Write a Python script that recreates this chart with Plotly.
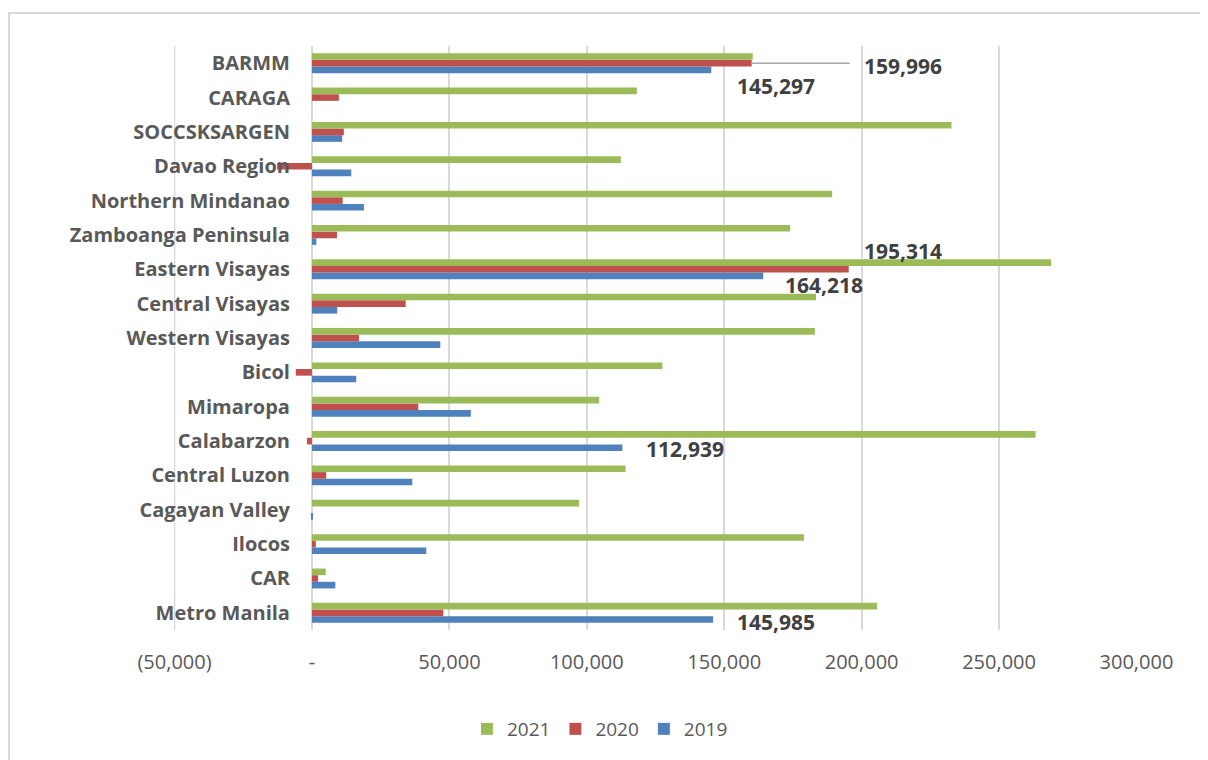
import plotly.graph_objects as go

# Regions listed bottom-to-top (as drawn on the category axis)
regions = ["Metro Manila", "CAR", "Ilocos", "Cagayan Valley", "Central Luzon",
           "Calabarzon", "Mimaropa", "Bicol", "Western Visayas", "Central Visayas",
           "Eastern Visayas", "Zamboanga Peninsula", "Northern Mindanao",
           "Davao Region", "SOCCSKSARGEN", "CARAGA", "BARMM"]

v2019 = [145985, 8500, 41600, 200, 36500,
         112939, 57800, 16100, 46700, 9200,
         164218, 1600, 18900, 14300, 11000, 0, 145297]
v2020 = [47800, 2200, 1400, 0, 5200,
         -1800, 38700, -5900, 17100, 34100,
         195314, 9100, 11200, -12700, 11600, 9800, 159996]
v2021 = [205600, 5000, 179000, 97200, 114100,
         263300, 104500, 127500, 183000, 183400,
         268900, 174000, 189300, 112400, 232700, 118200, 160400]

tick_vals = [-50000, 0, 50000, 100000, 150000, 200000, 250000, 300000]
tick_text = ["(50,000)", "-", "50,000", "100,000", "150,000", "200,000", "250,000", "300,000"]

x_min, x_max = -50000, 300000
r_lo, r_hi = x_min - 200, x_max + 200

C_GREEN = "#9BBB59"
C_RED = "#C0504D"
C_BLUE = "#4F81BD"
GRID = "#D9D9D9"
TXT = "#595959"
FONT = "Open Sans, DejaVu Sans, sans-serif"

fig = go.Figure()
for name, vals, col in [("2019", v2019, C_BLUE), ("2020", v2020, C_RED), ("2021", v2021, C_GREEN)]:
    fig.add_trace(go.Bar(y=regions, x=vals, name=name, orientation="h",
                         marker=dict(color=col, line=dict(width=0)),
                         hoverinfo="x+y+name"))

# data labels (series values, with manual pixel offsets as in the original chart)
series = {"2019": v2019, "2020": v2020}
labels = [  # (series, region, xshift, yshift)
    ("2020", "BARMM", 110, -3),
    ("2019", "BARMM", 24, -23),
    ("2020", "Eastern Visayas", 13, 18),
    ("2019", "Eastern Visayas", 20, -16),
    ("2019", "Calabarzon", 22, -8),
    ("2019", "Metro Manila", 22, -9),
]
for s, reg, xs, ys in labels:
    val = series[s][regions.index(reg)]
    fig.add_annotation(x=val, y=reg, xref="x", yref="y", text=f"{val:,}",
                       showarrow=False, xanchor="left", yanchor="middle",
                       xshift=xs, yshift=ys,
                       font=dict(family=FONT, size=21, color="#404040", weight="bold"))

# leader line for BARMM 2020 label
barmm_2020 = v2020[regions.index("BARMM")]
fig.add_shape(type="line", xref="x", yref="y", xsizemode="pixel", xanchor=barmm_2020,
              x0=0, x1=98, y0="BARMM", y1="BARMM",
              line=dict(color="#A6A6A6", width=1.5))

# gridline at the left edge of the value axis
fig.add_shape(type="line", xref="x", yref="paper", x0=x_min, x1=x_min, y0=0, y1=1,
              line=dict(color=GRID, width=1.5), layer="below")

# chart-area border
fig.add_shape(type="rect", xref="paper", yref="paper",
              x0=-0.1713, x1=1.12, y0=-0.4, y1=1.0565,
              line=dict(color=GRID, width=2), fillcolor="rgba(0,0,0,0)", layer="below")

fig.update_layout(
    width=1208, height=760,
    margin=dict(l=166, r=79, t=38, b=138),
    paper_bgcolor="white", plot_bgcolor="white",
    barmode="group", bargap=0.42, bargroupgap=0,
    font=dict(family=FONT, color=TXT),
    showlegend=True,
    legend=dict(orientation="h", traceorder="reversed",
                xref="container", x=0.49, xanchor="center",
                yref="container", y=0.0513, yanchor="middle",
                font=dict(family=FONT, size=19, color=TXT),
                itemwidth=30, tracegroupgap=0),
    xaxis=dict(range=[r_lo, r_hi], autorange=False, tickvals=tick_vals, ticktext=tick_text,
               showgrid=True, gridcolor=GRID, gridwidth=1.5,
               zeroline=True, zerolinecolor=GRID, zerolinewidth=1.5,
               showline=False, ticks="", ticklabelstandoff=18,
               tickfont=dict(family=FONT, size=20, color=TXT)),
    yaxis=dict(categoryorder="array", categoryarray=regions,
               range=[-0.5, len(regions) - 0.5], autorange=False,
               anchor="free", position=(0 - r_lo) / (r_hi - r_lo),
               showgrid=False, zeroline=False, showline=False, ticks="",
               ticklabelstandoff=22,
               tickfont=dict(family=FONT, size=20, color=TXT, weight="bold")),
)

fig.write_html("out.html")
